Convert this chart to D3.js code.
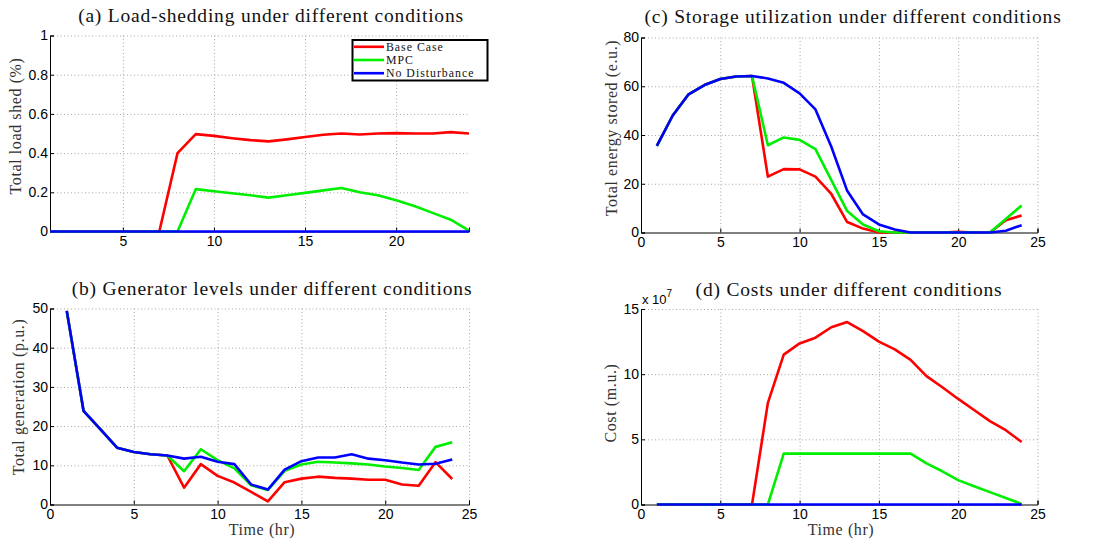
<!DOCTYPE html>
<html>
<head>
<meta charset="utf-8">
<title>Conditions</title>
<script src="https://cdn.jsdelivr.net/npm/d3@7"></script>
<style>
  body { margin: 0; background: #fff; }
  .tick text { font-family: "Liberation Sans", Arial, sans-serif; font-size: 14px; fill: #000; }
  .ttl { font-family: "Liberation Serif", "DejaVu Serif", serif; font-size: 19.5px; letter-spacing: 0.8px; fill: #111; }
  .lab { font-family: "Liberation Serif", "DejaVu Serif", serif; font-size: 16px; letter-spacing: 0.6px; fill: #333; }
  .leg { font-family: "Liberation Serif", "DejaVu Serif", serif; font-size: 11.8px; letter-spacing: 1px; fill: #111; }
</style>
</head>
<body>
<div id="chart"></div>
<script>
// hours 1..24
var hours = d3.range(1, 25);
var seriesNames = ["Base Case", "MPC", "No Disturbance"];
var seriesColors = ["#ff0000", "#00ee00", "#0000ff"];

// (a) load shed (%)
var shedBase = [0,0,0,0,0,0,0,0.40,0.497,0.488,0.476,0.466,0.46,0.47,0.482,0.494,0.50,0.495,0.50,0.502,0.50,0.50,0.507,0.50];
var shedMpc  = [0,0,0,0,0,0,0,0,0.216,0.205,0.195,0.185,0.173,0.185,0.197,0.21,0.222,0.20,0.185,0.16,0.13,0.095,0.06,0.005];
var shedNone = [0,0,0,0,0,0,0,0,0,0,0,0,0,0,0,0,0,0,0,0,0,0,0,0];

// (b) total generation (p.u.)
var genNone = [49.4,23.9,19.2,14.5,13.4,12.8,12.5,11.7,12.2,10.9,10.3,5.1,3.8,8.9,11.05,12,12,12.8,11.7,11.3,10.7,10.2,10.4,11.5];
var genMpc  = [49.4,23.9,19.2,14.5,13.4,12.8,12.5,8.5,14.1,11.3,9.2,4.9,3.7,8.6,10.2,10.9,10.7,10.5,10.2,9.7,9.3,8.8,14.7,15.9];
var genBase = [49.4,23.9,19.2,14.5,13.4,12.8,12.5,4.3,10.3,7.3,5.6,3.2,0.8,5.7,6.6,7.1,6.8,6.6,6.3,6.3,5.1,4.8,10.8,6.5];

// (c) total energy stored (e.u.)
var stoNone = [35.5,48,56.7,60.5,63,64,64.2,63.2,61.4,57.1,50.5,35.2,17.1,7.4,3.3,1.2,0,0,0,0,0,0,0.7,3];
var stoMpc  = [35.5,48,56.7,60.5,63,64,64.2,35.8,39,38,34.2,21.5,8.8,3.3,0.5,0,0,0,0,0,0,0,5.5,11.1];
var stoBase = [35.5,48,56.7,60.5,63,64,64.2,22.9,26,25.9,22.9,15.8,4.3,1.6,0,0,0,0,0,0.3,0,0,5,7];

// (d) cost (m.u.)
var costBase = [0,0,0,0,0,0,0,7.8e7,11.5e7,12.36e7,12.8e7,13.6e7,14.0e7,13.3e7,12.5e7,11.9e7,11.1e7,9.85e7,9.0e7,8.1e7,7.25e7,6.4e7,5.7e7,4.8e7];
var costMpc  = [0,0,0,0,0,0,0,0,3.9e7,3.9e7,3.9e7,3.9e7,3.9e7,3.9e7,3.9e7,3.9e7,3.9e7,3.15e7,2.55e7,1.87e7,1.4e7,0.95e7,0.5e7,0.05e7];
var costNone = [0,0,0,0,0,0,0,0,0,0,0,0,0,0,0,0,0,0,0,0,0,0,0,0];

var W = 1103, H = 540;
var svg = d3.select("#chart").append("svg").attr("width", W).attr("height", H);

function panel(opt) {
  var x = d3.scaleLinear().domain(opt.xdom).range([opt.l, opt.r]);
  var y = d3.scaleLinear().domain(opt.ydom).range([opt.b, opt.t]);
  var g = svg.append("g");

  // dotted grid
  var grid = g.append("g").attr("stroke", "#a8a8a8").attr("stroke-width", 1).attr("stroke-dasharray", "1,2.5");
  grid.selectAll("line.gx").data(opt.xticks.filter(function(d){ return d != opt.xdom[0]; }))
    .enter().append("line")
    .attr("x1", function(d){ return x(d) + 0.5; }).attr("x2", function(d){ return x(d) + 0.5; })
    .attr("y1", opt.t).attr("y2", opt.b);
  grid.selectAll("line.gy").data(opt.yticks.filter(function(d){ return d != opt.ydom[0]; }))
    .enter().append("line")
    .attr("y1", function(d){ return y(d) + 0.5; }).attr("y2", function(d){ return y(d) + 0.5; })
    .attr("x1", opt.l).attr("x2", opt.r);

  // axes
  var xa = g.append("g").attr("transform", "translate(0," + opt.b + ")")
    .call(d3.axisBottom(x).tickValues(opt.xticks).tickSize(-4).tickPadding(5).tickFormat(d3.format("d")));
  var ya = g.append("g").attr("transform", "translate(" + opt.l + ",0)")
    .call(d3.axisLeft(y).tickValues(opt.yticks).tickSize(-4).tickPadding(2).tickFormat(opt.yfmt));
  [xa, ya].forEach(function(a) {
    a.select(".domain").attr("stroke", "#000");
    a.selectAll(".tick line").attr("stroke", "#000");
  });

  // lines
  var line = d3.line().x(function(d){ return x(d[0]); }).y(function(d){ return y(d[1]); });
  opt.series.forEach(function(s, i) {
    g.append("path")
      .datum(hours.map(function(h, k){ return [h, s[k]]; }))
      .attr("fill", "none").attr("stroke", seriesColors[i]).attr("stroke-width", 2.6)
      .attr("stroke-linejoin", "round")
      .attr("d", line);
  });

  // title & labels
  svg.append("text").attr("class", "ttl").attr("x", opt.tx).attr("y", opt.ty)
    .attr("text-anchor", "middle").text(opt.title);
  svg.append("text").attr("class", "lab")
    .attr("transform", "translate(" + opt.ylx + "," + opt.yly + ") rotate(-90)")
    .attr("text-anchor", "middle").text(opt.ylabel);
  if (opt.xlabel) {
    svg.append("text").attr("class", "lab").attr("x", opt.xlx).attr("y", 535)
      .attr("text-anchor", "middle").text(opt.xlabel);
  }
  return g;
}

panel({ l: 50, r: 469, t: 35.5, b: 231.5, xdom: [1, 24], ydom: [0, 1],
  xticks: [5, 10, 15, 20], yticks: [0, 0.2, 0.4, 0.6, 0.8, 1],
  yfmt: function(d){ return d3.format("")(d); },
  series: [shedBase, shedMpc, shedNone],
  title: "(a) Load-shedding under different conditions", tx: 271, ty: 22,
  ylabel: "Total load shed (%)", ylx: 21, yly: 126 });

panel({ l: 50, r: 469, t: 308.5, b: 504.5, xdom: [0, 25], ydom: [0, 50],
  xticks: [0, 5, 10, 15, 20, 25], yticks: [0, 10, 20, 30, 40, 50],
  yfmt: d3.format("d"),
  series: [genBase, genMpc, genNone],
  title: "(b) Generator levels under different conditions", tx: 272, ty: 295,
  ylabel: "Total generation (p.u.)", ylx: 24, yly: 397,
  xlabel: "Time (hr)", xlx: 262 });

panel({ l: 641, r: 1037.5, t: 37.5, b: 232.5, xdom: [0, 25], ydom: [0, 80],
  xticks: [0, 5, 10, 15, 20, 25], yticks: [0, 20, 40, 60, 80],
  yfmt: d3.format("d"),
  series: [stoBase, stoMpc, stoNone],
  title: "(c) Storage utilization under different conditions", tx: 853, ty: 23,
  ylabel: "Total energy stored (e.u.)", ylx: 617, yly: 128 });

panel({ l: 641, r: 1037.5, t: 309, b: 504.5, xdom: [0, 25], ydom: [0, 15e7],
  xticks: [0, 5, 10, 15, 20, 25], yticks: [0, 5e7, 10e7, 15e7],
  yfmt: function(d){ return d3.format("d")(d / 1e7); },
  series: [costBase, costMpc, costNone],
  title: "(d) Costs under different conditions", tx: 849, ty: 296,
  ylabel: "Cost (m.u.)", ylx: 616, yly: 403,
  xlabel: "Time (hr)", xlx: 841 });

// exponent label for (d)
var ex = svg.append("text").attr("x", 642).attr("y", 304)
  .style("font-family", "'Liberation Sans', Arial, sans-serif").style("font-size", "13px");
ex.append("tspan").text("x 10");
ex.append("tspan").attr("dy", -7).style("font-size", "10px").text("7");

// legend in (a)
var leg = svg.append("g");
leg.append("rect").attr("x", 352.5).attr("y", 40).attr("width", 135).attr("height", 40.5)
  .attr("fill", "#fff").attr("stroke", "#000").attr("stroke-width", 2);
seriesNames.forEach(function(n, i) {
  var yy = 46.8 + i * 13.2;
  leg.append("line").attr("x1", 354).attr("x2", 384).attr("y1", yy).attr("y2", yy)
    .attr("stroke", seriesColors[i]).attr("stroke-width", 2.6);
  leg.append("text").attr("class", "leg").attr("x", 386).attr("y", yy + 4).text(n);
});
</script>
</body>
</html>
